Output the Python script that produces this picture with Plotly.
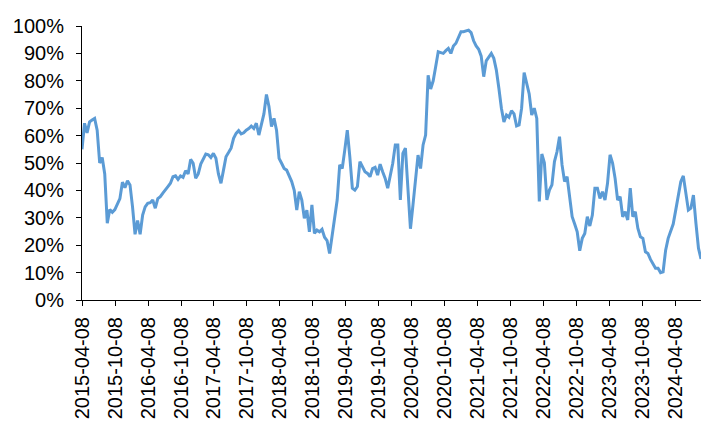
import pandas as pd
import plotly.graph_objects as go

start_date = "2015-04-08"
step = "14D"

values = [
    0.55, 0.645, 0.61, 0.65, 0.657, 0.663, 0.62, 0.50, 0.52, 0.46,
    0.28, 0.33, 0.32, 0.33, 0.35, 0.37, 0.43, 0.41, 0.435, 0.42,
    0.34, 0.24, 0.29, 0.24, 0.31, 0.34, 0.353, 0.355, 0.365, 0.335,
    0.37,
    0.377, 0.39, 0.404, 0.414, 0.426, 0.45, 0.453, 0.44, 0.453, 0.448,
    0.472, 0.46, 0.513, 0.499, 0.444, 0.46, 0.496, 0.513, 0.533, 0.53,
    0.52, 0.535, 0.517, 0.46, 0.426, 0.474, 0.523, 0.538, 0.554, 0.59,
    0.608,
    0.618, 0.606, 0.61, 0.62, 0.626, 0.635, 0.626, 0.645, 0.602, 0.639,
    0.679, 0.75, 0.706, 0.633, 0.663, 0.62, 0.517, 0.499, 0.48, 0.474,
    0.453, 0.432, 0.40, 0.328, 0.395, 0.365, 0.298, 0.328, 0.249, 0.347,
    0.243,
    0.255, 0.249, 0.258, 0.229, 0.217, 0.17, 0.237, 0.298, 0.365, 0.493,
    0.48, 0.547, 0.62, 0.523, 0.408, 0.401, 0.414, 0.505, 0.487, 0.468,
    0.462, 0.45, 0.48, 0.484, 0.456, 0.496, 0.468, 0.444, 0.408, 0.45,
    0.499,
    0.566, 0.566, 0.365, 0.535, 0.554, 0.40, 0.26, 0.347, 0.438, 0.529,
    0.48, 0.566, 0.602, 0.82, 0.77, 0.80, 0.852, 0.906, 0.903, 0.90,
    0.91, 0.918, 0.90, 0.927, 0.937, 0.955, 0.979, 0.979, 0.983, 0.985,
    0.976, 0.946, 0.927, 0.915, 0.89, 0.815, 0.873, 0.886, 0.90, 0.882,
    0.839, 0.773, 0.70, 0.65, 0.675, 0.667, 0.691, 0.679, 0.635, 0.639,
    0.70, 0.83, 0.785, 0.752, 0.675, 0.70, 0.663, 0.36, 0.533, 0.501,
    0.365,
    0.401, 0.42, 0.505, 0.541, 0.596, 0.493, 0.432, 0.45, 0.371, 0.304,
    0.277, 0.249, 0.18, 0.225, 0.243, 0.304, 0.27, 0.31, 0.408, 0.408,
    0.371, 0.395, 0.365, 0.426, 0.53, 0.50, 0.444, 0.365, 0.377, 0.304,
    0.322,
    0.292, 0.408, 0.304, 0.322, 0.262, 0.231, 0.225, 0.176, 0.17, 0.148,
    0.13, 0.116, 0.116, 0.10, 0.103, 0.182, 0.225, 0.255, 0.277, 0.328,
    0.377, 0.432, 0.453, 0.389, 0.328, 0.335, 0.383, 0.28, 0.189, 0.15,
]

tick_dates = [
    "2015-04-08", "2015-10-08", "2016-04-08", "2016-10-08", "2017-04-08",
    "2017-10-08", "2018-04-08", "2018-10-08", "2019-04-08", "2019-10-08",
    "2020-04-08", "2020-10-08", "2021-04-08", "2021-10-08", "2022-04-08",
    "2022-10-08", "2023-04-08", "2023-10-08", "2024-04-08",
]
x_range = ["2015-04-08", "2024-08-28"]

y_ticks = [i / 10 for i in range(11)]
y_labels = [f"{i * 10}%" for i in range(11)]

dates = pd.date_range(start_date, periods=len(values), freq=step)

font = dict(family="Liberation Sans, Arial, sans-serif", size=20, color="#000000")

fig = go.Figure(
    go.Scatter(
        x=dates, y=values, mode="lines",
        line=dict(color="#5B9BD5", width=3),
        hoverinfo="skip",
    )
)

# page body has an 8px default margin; figure sized/margined to compensate
fig.update_layout(
    width=695, height=416,
    margin=dict(l=74, r=2, t=18, b=124, autoexpand=False),
    paper_bgcolor="white", plot_bgcolor="white",
    font=font, showlegend=False,
    xaxis=dict(
        type="date", range=x_range,
        tickvals=tick_dates, ticktext=tick_dates,
        tickangle=-90, ticks="outside", ticklen=5, tickwidth=1,
        tickcolor="#000", showline=True, linecolor="#000", linewidth=1,
        showgrid=False, zeroline=False, automargin=False, tickfont=font,
        ticklabelstandoff=3,
    ),
    yaxis=dict(
        range=[0, 1], tickvals=y_ticks, ticktext=y_labels,
        ticks="outside", ticklen=5, tickwidth=1, tickcolor="#000",
        showline=True, linecolor="#000", linewidth=1,
        showgrid=False, zeroline=False, automargin=False, tickfont=font,
        ticklabelstandoff=8,
    ),
)

fig.write_html("out.html")
